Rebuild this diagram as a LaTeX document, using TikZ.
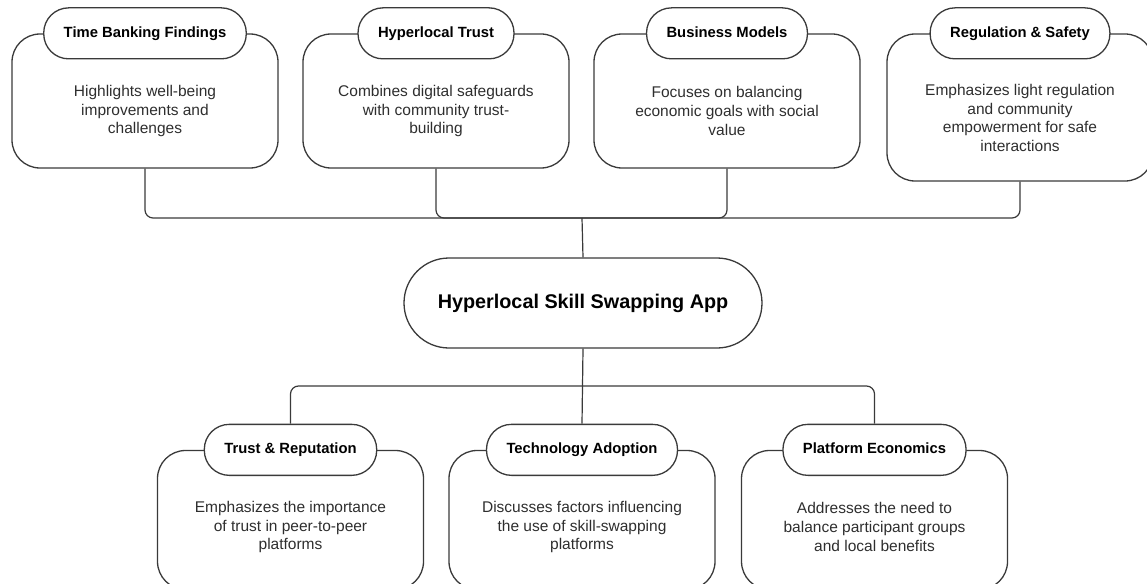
\documentclass[tikz,border=0pt]{standalone}
\usepackage{fontspec}
\setmainfont{Liberation Sans}

\definecolor{linegray}{HTML}{3A3A3A}
\definecolor{ink}{HTML}{2E2E2E}

\begin{document}
\begin{tikzpicture}[x=1pt,y=-1pt,
  card/.style={draw=linegray,line width=1.3pt,rounded corners=28pt,minimum width=266pt},
  head/.style={draw=linegray,fill=white,line width=1.3pt,rounded corners=25pt,
    minimum height=51pt,inner xsep=20pt,text height=11pt,text depth=3pt,
    font=\fontsize{14.8}{17}\selectfont\bfseries},
  hub/.style={draw=linegray,fill=white,line width=1.3pt,rounded corners=45pt,
    minimum width=358pt,minimum height=90pt,font=\fontsize{19.8}{23}\selectfont\bfseries},
  note/.style={align=center,text=ink,font=\fontsize{15.5}{18.6}\selectfont},
  wire/.style={draw=linegray,line width=1.2pt,rounded corners=8pt}]
  \useasboundingbox (0,0) rectangle (1147,583);
  \clip (0,0) rectangle (1147,583);

  % findings along the top
  \node[card,minimum height=134pt] (tb) at (145,101) {};
  \node[head] (tbh) at (tb.north) {Time Banking Findings};
  \node[note] (tbt) at (145,111) {Highlights well-being\\improvements and\\challenges};

  \node[card,minimum height=134pt] (ht) at (436,101) {};
  \node[head] (hth) at (ht.north) {Hyperlocal Trust};
  \node[note] (htt) at (436,111) {Combines digital safeguards\\with community trust-\\building};

  \node[card,minimum height=134pt] (bm) at (727,101) {};
  \node[head] (bmh) at (bm.north) {Business Models};
  \node[note] (bmt) at (727,111) {Focuses on balancing\\economic goals with social\\value};

  \node[card,minimum height=147pt] (rs) at (1020,107.5) {};
  \node[head] (rsh) at (rs.north) {Regulation \& Safety};
  \node[note] (rst) at (1020,118) {Emphasizes light regulation\\and community\\empowerment for safe\\interactions};

  % the app in the middle
  \node[hub] (app) at (583,303) {Hyperlocal Skill Swapping App};

  % themes along the bottom
  \node[card,minimum height=139pt] (tr) at (290.5,520) {};
  \node[head] (trh) at (tr.north) {Trust \& Reputation};
  \node[note] (trt) at (290.5,527) {Emphasizes the importance\\of trust in peer-to-peer\\platforms};

  \node[card,minimum height=139pt] (ta) at (582,520) {};
  \node[head] (tah) at (ta.north) {Technology Adoption};
  \node[note] (tat) at (582,527) {Discusses factors influencing\\the use of skill-swapping\\platforms};

  \node[card,minimum height=139pt] (pe) at (874.5,520) {};
  \node[head] (peh) at (pe.north) {Platform Economics};
  \node[note] (pet) at (874.5,527) {Addresses the need to\\balance participant groups\\and local benefits};

  % connectors
  \coordinate (tbus) at (582,218);
  \draw[wire] (tb.south) |- (tbus -| rs.south) -- (rs.south);
  \draw[wire] (ht.south) |- (tbus -| bm.south) -- (bm.south);
  \draw[wire] (tbus) -- (app.north);

  \coordinate (bbus) at (582,386);
  \draw[wire] (trh.north) |- (bbus -| peh.north) -- (peh.north);
  \draw[wire] (app.south) -- (tah.north);
\end{tikzpicture}
\end{document}
